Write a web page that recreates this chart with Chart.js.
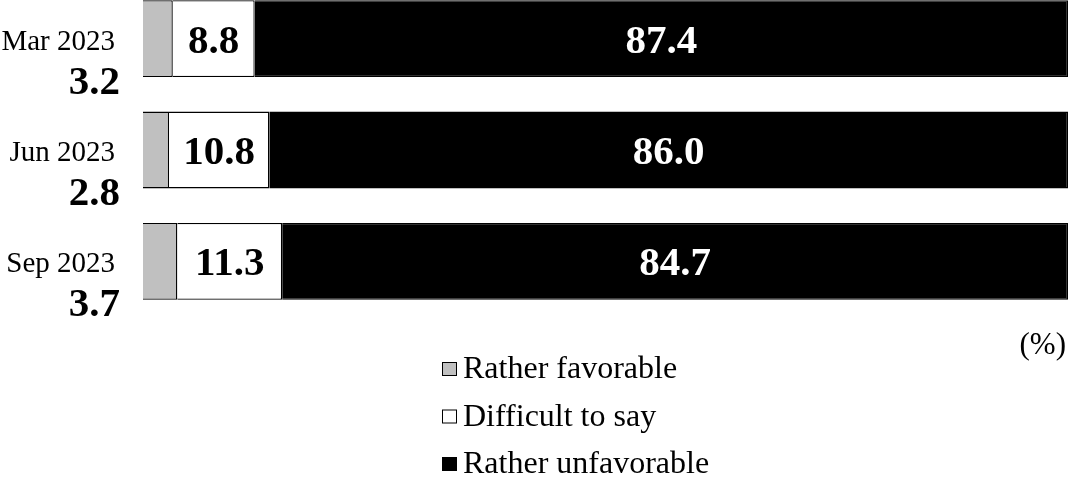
<!DOCTYPE html>
<html>
<head>
<meta charset="utf-8">
<script src="https://cdn.jsdelivr.net/npm/chart.js@4/dist/chart.umd.min.js"></script>
<style>
  html, body { margin: 0; padding: 0; background: #fff; }
  #wrap { position: relative; width: 1068px; height: 480px; overflow: hidden; background: #fff; }
  #c { position: absolute; left: 0; top: -17px; }
</style>
</head>
<body>
<div id="wrap"><canvas id="c" width="1068" height="497"></canvas></div>
<script>
// ---- Data ----
const categories = ['Mar 2023', 'Jun 2023', 'Sep 2023'];
const favorable = [3.2, 2.8, 3.7];
const difficult = [8.8, 10.8, 11.3];
const unfavorable = [87.4, 86.0, 84.7];
const seriesNames = ['Rather favorable', 'Difficult to say', 'Rather unfavorable'];
const unitLabel = '(%)';

// 100% stacked: each bar normalised to its own total
const totals = categories.map((_, i) => favorable[i] + difficult[i] + unfavorable[i]);
const norm = arr => arr.map((v, i) => v / totals[i] * 100);
const rawSeries = [favorable, difficult, unfavorable];

const SERIF = '"Liberation Serif", "Times New Roman", serif';
const OFF = 17; // canvas is shifted up by this many px

const labelPlugin = {
  id: 'labels',
  afterDatasetsDraw(chart) {
    const ctx = chart.ctx;
    const yScale = chart.scales.y;
    ctx.save();
    categories.forEach((cat, i) => {
      const yc = yScale.getPixelForValue(i);
      // category label
      ctx.fillStyle = '#000';
      ctx.textAlign = 'right';
      ctx.textBaseline = 'alphabetic';
      ctx.font = '29px ' + SERIF;
      ctx.fillText(cat, 115, yc + 11);
      // favorable value (outside, left)
      ctx.font = 'bold 41px ' + SERIF;
      ctx.fillText(favorable[i].toFixed(1), 120, yc + 55);
      // in-bar values
      [1, 2].forEach(d => {
        const el = chart.getDatasetMeta(d).data[i];
        const cx = (el.x + el.base) / 2;
        ctx.textAlign = 'center';
        ctx.fillStyle = d === 2 ? '#fff' : '#000';
        ctx.font = 'bold 41px ' + SERIF;
        ctx.fillText(rawSeries[d][i].toFixed(1), cx, yc + 14);
      });
    });
    ctx.restore();
  },
  afterDraw(chart) {
    const ctx = chart.ctx;
    ctx.save();
    // unit label
    ctx.fillStyle = '#000';
    ctx.font = '31px ' + SERIF;
    ctx.textAlign = 'right';
    ctx.textBaseline = 'alphabetic';
    ctx.fillText(unitLabel, 1066, 354 + OFF);
    // legend (vertical)
    const rowCenters = [369, 416.5, 464];
    chart.data.datasets.forEach((ds, k) => {
      const cy = rowCenters[k] + OFF;
      ctx.fillStyle = ds.backgroundColor;
      ctx.fillRect(442, cy - 7, 15, 14);
      ctx.strokeStyle = '#000';
      ctx.lineWidth = 1;
      ctx.strokeRect(442.5, cy - 6.5, 14, 13);
      ctx.fillStyle = '#000';
      ctx.font = '32px ' + SERIF;
      ctx.textAlign = 'left';
      ctx.fillText(ds.label, 463, cy + 9);
    });
    ctx.restore();
  }
};

new Chart(document.getElementById('c'), {
  type: 'bar',
  data: {
    labels: categories,
    datasets: [
      { label: seriesNames[0], data: norm(favorable), backgroundColor: '#c0c0c0', borderColor: '#000', borderWidth: 1.3 },
      { label: seriesNames[1], data: norm(difficult), backgroundColor: '#ffffff', borderColor: '#000', borderWidth: 1.3 },
      { label: seriesNames[2], data: norm(unfavorable), backgroundColor: '#000000', borderColor: '#000', borderWidth: 1.3 }
    ]
  },
  options: {
    indexAxis: 'y',
    responsive: false,
    animation: false,
    layout: { padding: { left: 143, right: 0, top: 0, bottom: 163 } },
    datasets: { bar: { categoryPercentage: 1, barPercentage: 0.69 } },
    scales: {
      x: { stacked: true, min: 0, max: 100, display: false },
      y: { stacked: true, display: false }
    },
    plugins: { legend: { display: false }, tooltip: { enabled: false } }
  },
  plugins: [labelPlugin]
});
</script>
</body>
</html>
